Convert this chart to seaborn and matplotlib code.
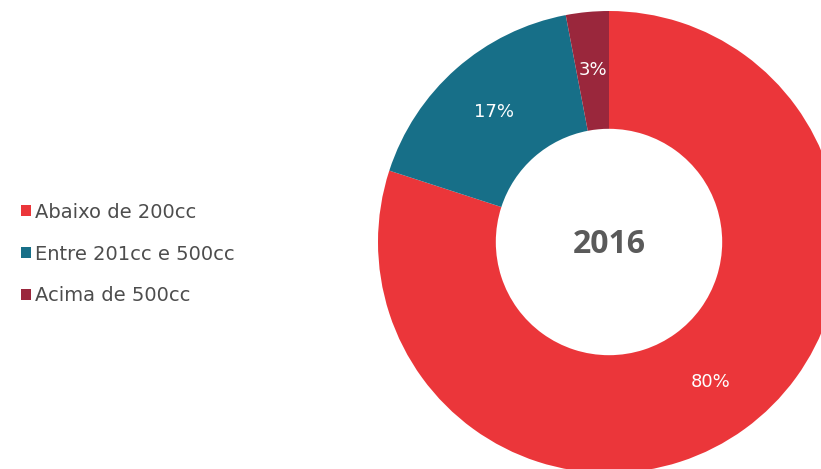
import matplotlib
matplotlib.use("Agg")
import matplotlib.pyplot as plt
import seaborn as sns

# Engine displacement share, 2016
categories = ["Abaixo de 200cc", "Entre 201cc e 500cc", "Acima de 500cc"]
shares = [80, 17, 3]
colors = ["#EB363A", "#176F88", "#9A273C"]
center_label = "2016"

sns.set_theme(style="white")
plt.rcParams["font.family"] = ["DejaVu Sans"]

fig = plt.figure(figsize=(8.21, 4.69), dpi=100)
fig.patch.set_facecolor("white")

# Donut axes: square box in pixels, partly running past the figure edge
W, H = 821, 469
cx, cy, R = 609, 242, 231
ax = fig.add_axes([(cx - R) / W, (H - cy - R) / H, 2 * R / W, 2 * R / H])
ax.axis("off")

wedges, texts = ax.pie(
    shares,
    colors=colors,
    startangle=90,
    counterclock=False,
    radius=1.0,
    labels=[f"{v}%" for v in shares],
    labeldistance=0.75,
    wedgeprops=dict(width=0.51, edgecolor="none"),
    textprops=dict(color="white", fontsize=13),
    frame=False,
)
ax.set_xlim(-1, 1)
ax.set_ylim(-1, 1)
ax.set_aspect("auto")
for t in texts:
    t.set_ha("center")
    t.set_va("center")

ax.text(0, -0.01, center_label, ha="center", va="center", fontsize=23,
        fontweight="bold", color="#5A5A5A", family="Open Sans")

leg = fig.legend(
    wedges, categories,
    loc="center left",
    bbox_to_anchor=(21 / W, (H - 254) / H),
    frameon=False,
    fontsize=14,
    handlelength=0.5,
    handleheight=0.5,
    handletextpad=0.2,
    labelspacing=1.18,
    borderpad=0,
    borderaxespad=0,
)
for t in leg.get_texts():
    t.set_color("#4D4D4D")

fig.savefig("out.png", dpi=100, facecolor="white")
